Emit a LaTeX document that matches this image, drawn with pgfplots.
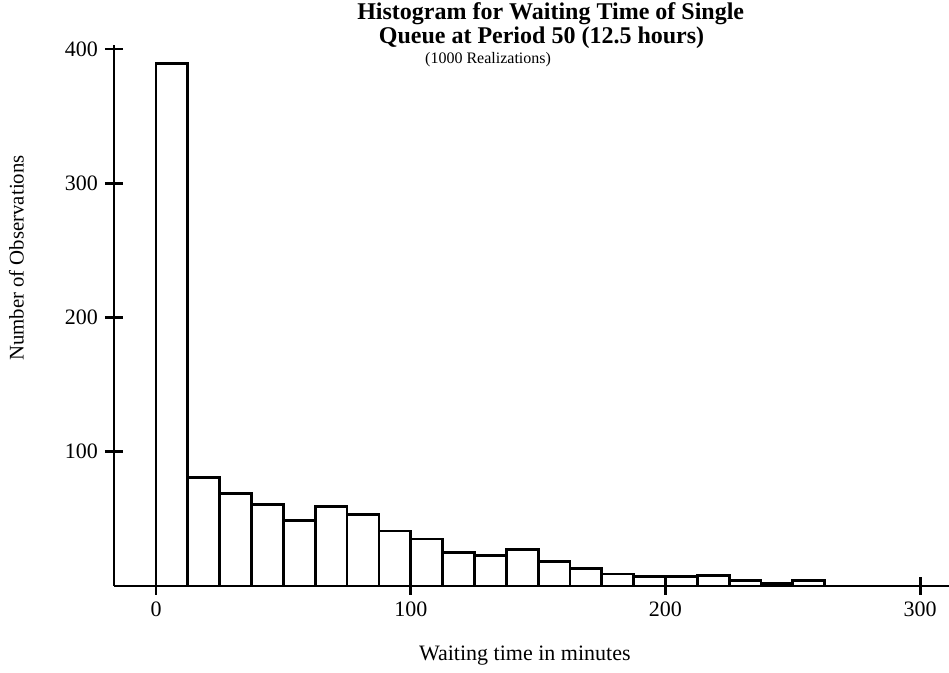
\documentclass[border=0pt]{standalone}
\usepackage{fontspec}
\setmainfont{Liberation Serif}
\usepackage{pgfplots}
\pgfplotsset{compat=1.18}

% counts per 12.5-minute bin (left edges), last row closes the interval
\pgfplotstableread{
x      n
0      389
12.5   81
25     69
37.5   61
50     49
62.5   59
75     53
87.5   41
100    35
112.5  25
125    23
137.5  27
150    18
162.5  13
175    9
187.5  7
200    7
212.5  8
225    4
237.5  2
250    4
262.5  4
}\waitdata

\begin{document}
\begin{tikzpicture}
\begin{axis}[
    name=ax,
    scale only axis,
    width=417.5pt, height=270.5pt,
    xmin=-16.5, xmax=311.3,
    ymin=0, ymax=403,
    axis x line=bottom, axis y line=left,
    axis line style={-, line width=1.4pt},
    xtick={0,100,200,300},
    ytick={100,200,300,400},
    x tick label as interval=false,
    tick align=center,
    major tick length=9pt,
    tick style={line width=1.4pt, black},
    /pgf/number format/assume math mode=true,
    ticklabel style={font=\fontsize{11}{13}\selectfont},
    xlabel={Waiting time in minutes},
    ylabel={Number of Observations},
    xlabel style={font=\fontsize{11}{13}\selectfont,
        at={(axis description cs:0.492,-0.129)}, anchor=center},
    ylabel style={font=\fontsize{10.4}{12}\selectfont,
        at={(axis description cs:-0.117,0.606)}, anchor=center},
    clip=false,
]
\addplot[ybar interval, fill=white, draw=black, line width=1.4pt]
    table[x=x, y=n] {\waitdata};
\draw[line width=1.4pt] (rel axis cs:0,0) -- ++(-4pt,0);
\node[anchor=base, font=\bfseries\fontsize{12}{14}\selectfont]
    at (axis description cs:0.523,1.048) {Histogram for Waiting Time of Single};
\node[anchor=base, font=\bfseries\fontsize{12}{14}\selectfont]
    at (axis description cs:0.512,1.002) {Queue at Period 50 (12.5 hours)};
\node[anchor=base, font=\fontsize{8}{10}\selectfont]
    at (axis description cs:0.448,0.965) {(1000 Realizations)};
\end{axis}
\pgfresetboundingbox
\path[use as bounding box] ([shift={(-57pt,-43.5pt)}]ax.south west)
    rectangle ([shift={(417.5pt,293pt)}]ax.south west);
\end{tikzpicture}
\end{document}
